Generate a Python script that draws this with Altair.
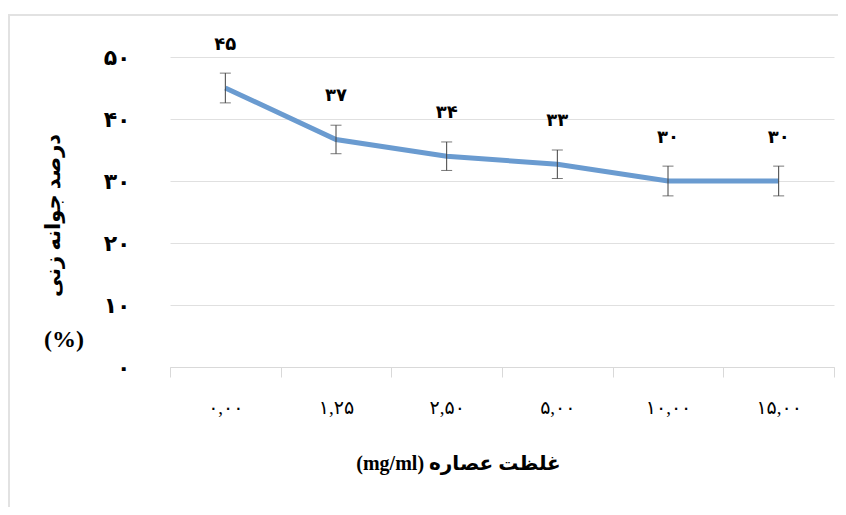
import altair as alt
import pandas as pd

categories = ["۰,۰۰", "۱,۲۵", "۲,۵۰", "۵,۰۰", "۱۰,۰۰", "۱۵,۰۰"]
values = [45.0, 36.7, 34.0, 32.7, 30.0, 30.0]
errors = [2.4, 2.3, 2.3, 2.3, 2.4, 2.4]
value_labels = ["۴۵", "۳۷", "۳۴", "۳۳", "۳۰", "۳۰"]
y_tick_values = [0, 10, 20, 30, 40, 50]
y_tick_labels = ["۰", "۱۰", "۲۰", "۳۰", "۴۰", "۵۰"]

x_title = "\u202bغلظت عصاره (mg/ml)\u202c"
y_title = "درصد جوانه زنی"
y_unit = "(%)"

df = pd.DataFrame({
    "cat": categories,
    "val": values,
    "lo": [v - e for v, e in zip(values, errors)],
    "hi": [v + e for v, e in zip(values, errors)],
    "lab": value_labels,
})

FONT = "Liberation Serif, DejaVu Sans"
W, H = 664, 310

label_expr = " : ".join(
    f"datum.value == {v} ? '{l}'" for v, l in zip(y_tick_values, y_tick_labels)
) + " : ''"

x_enc = alt.X(
    "cat:N",
    sort=categories,
    scale=alt.Scale(type="band", paddingInner=0, paddingOuter=0),
    axis=alt.Axis(
        title=x_title,
        labelAngle=0,
        tickBand="extent",
        tickSize=10,
        tickColor="#d9d9d9",
        domainColor="#d9d9d9",
        labelPadding=21,
        labelFontSize=19,
        labelFont=FONT,
        labelColor="#000000",
        titleFont=FONT,
        titleFontSize=20,
        titleFontWeight="bold",
        titleColor="#000000",
        titleX=288,
        titleY=96,
        titleAlign="center",
        titleBaseline="middle",
    ),
)

y_scale = alt.Scale(domain=[0, 50], nice=False)

line = alt.Chart(df).mark_line(color="#6a9bd0", strokeWidth=5).encode(
    x=x_enc,
    y=alt.Y(
        "val:Q",
        scale=y_scale,
        axis=alt.Axis(
            values=y_tick_values,
            labelExpr=label_expr,
            title=y_title,
            domain=False,
            ticks=False,
            grid=True,
            gridColor="#e0e0e0",
            labelPadding=40,
            labelFontSize=22,
            labelFont=FONT,
            labelFontWeight="bold",
            labelColor="#000000",
            titleFont=FONT,
            titleFontSize=21,
            titleFontWeight="bold",
            titleColor="#000000",
            titleAngle=-90,
            titleX=-117,
            titleY=158,
            titleAlign="center",
            titleBaseline="middle",
        ),
    ),
)

err_rule = alt.Chart(df).mark_rule(color="#404040", strokeWidth=1).encode(
    x=alt.X("cat:N", sort=categories),
    y=alt.Y("lo:Q", scale=y_scale),
    y2="hi:Q",
)
cap_lo = alt.Chart(df).mark_tick(color="#404040", size=11, thickness=1).encode(
    x=alt.X("cat:N", sort=categories),
    y=alt.Y("lo:Q", scale=y_scale),
)
cap_hi = alt.Chart(df).mark_tick(color="#404040", size=11, thickness=1).encode(
    x=alt.X("cat:N", sort=categories),
    y=alt.Y("hi:Q", scale=y_scale),
)

labels = alt.Chart(df).mark_text(
    dy=-43, font=FONT, fontSize=18, fontWeight="bold", color="#000000", baseline="middle"
).encode(
    x=alt.X("cat:N", sort=categories),
    y=alt.Y("val:Q", scale=y_scale),
    text="lab:N",
)

unit = alt.Chart(pd.DataFrame({"t": [y_unit]})).mark_text(
    font=FONT, fontSize=24, fontWeight="bold", color="#000000", baseline="middle"
).encode(x=alt.value(-106), y=alt.value(283), text="t:N")

border = alt.Chart(pd.DataFrame({"a": [0]})).mark_rect(
    fill=None, stroke="#e2e2e2", strokeWidth=2
).encode(
    x=alt.value(-161), y=alt.value(-42), x2=alt.value(720), y2=alt.value(500)
)

chart = alt.layer(border, line, err_rule, cap_lo, cap_hi, labels, unit).properties(
    width=W,
    height=H,
    autosize=alt.AutoSizeParams(type="none"),
    padding={"left": 162, "top": 49, "right": 4, "bottom": 140},
    background="white",
).configure_view(stroke=None)

chart.save("out.html", embed_options={"renderer": "svg", "actions": False})
